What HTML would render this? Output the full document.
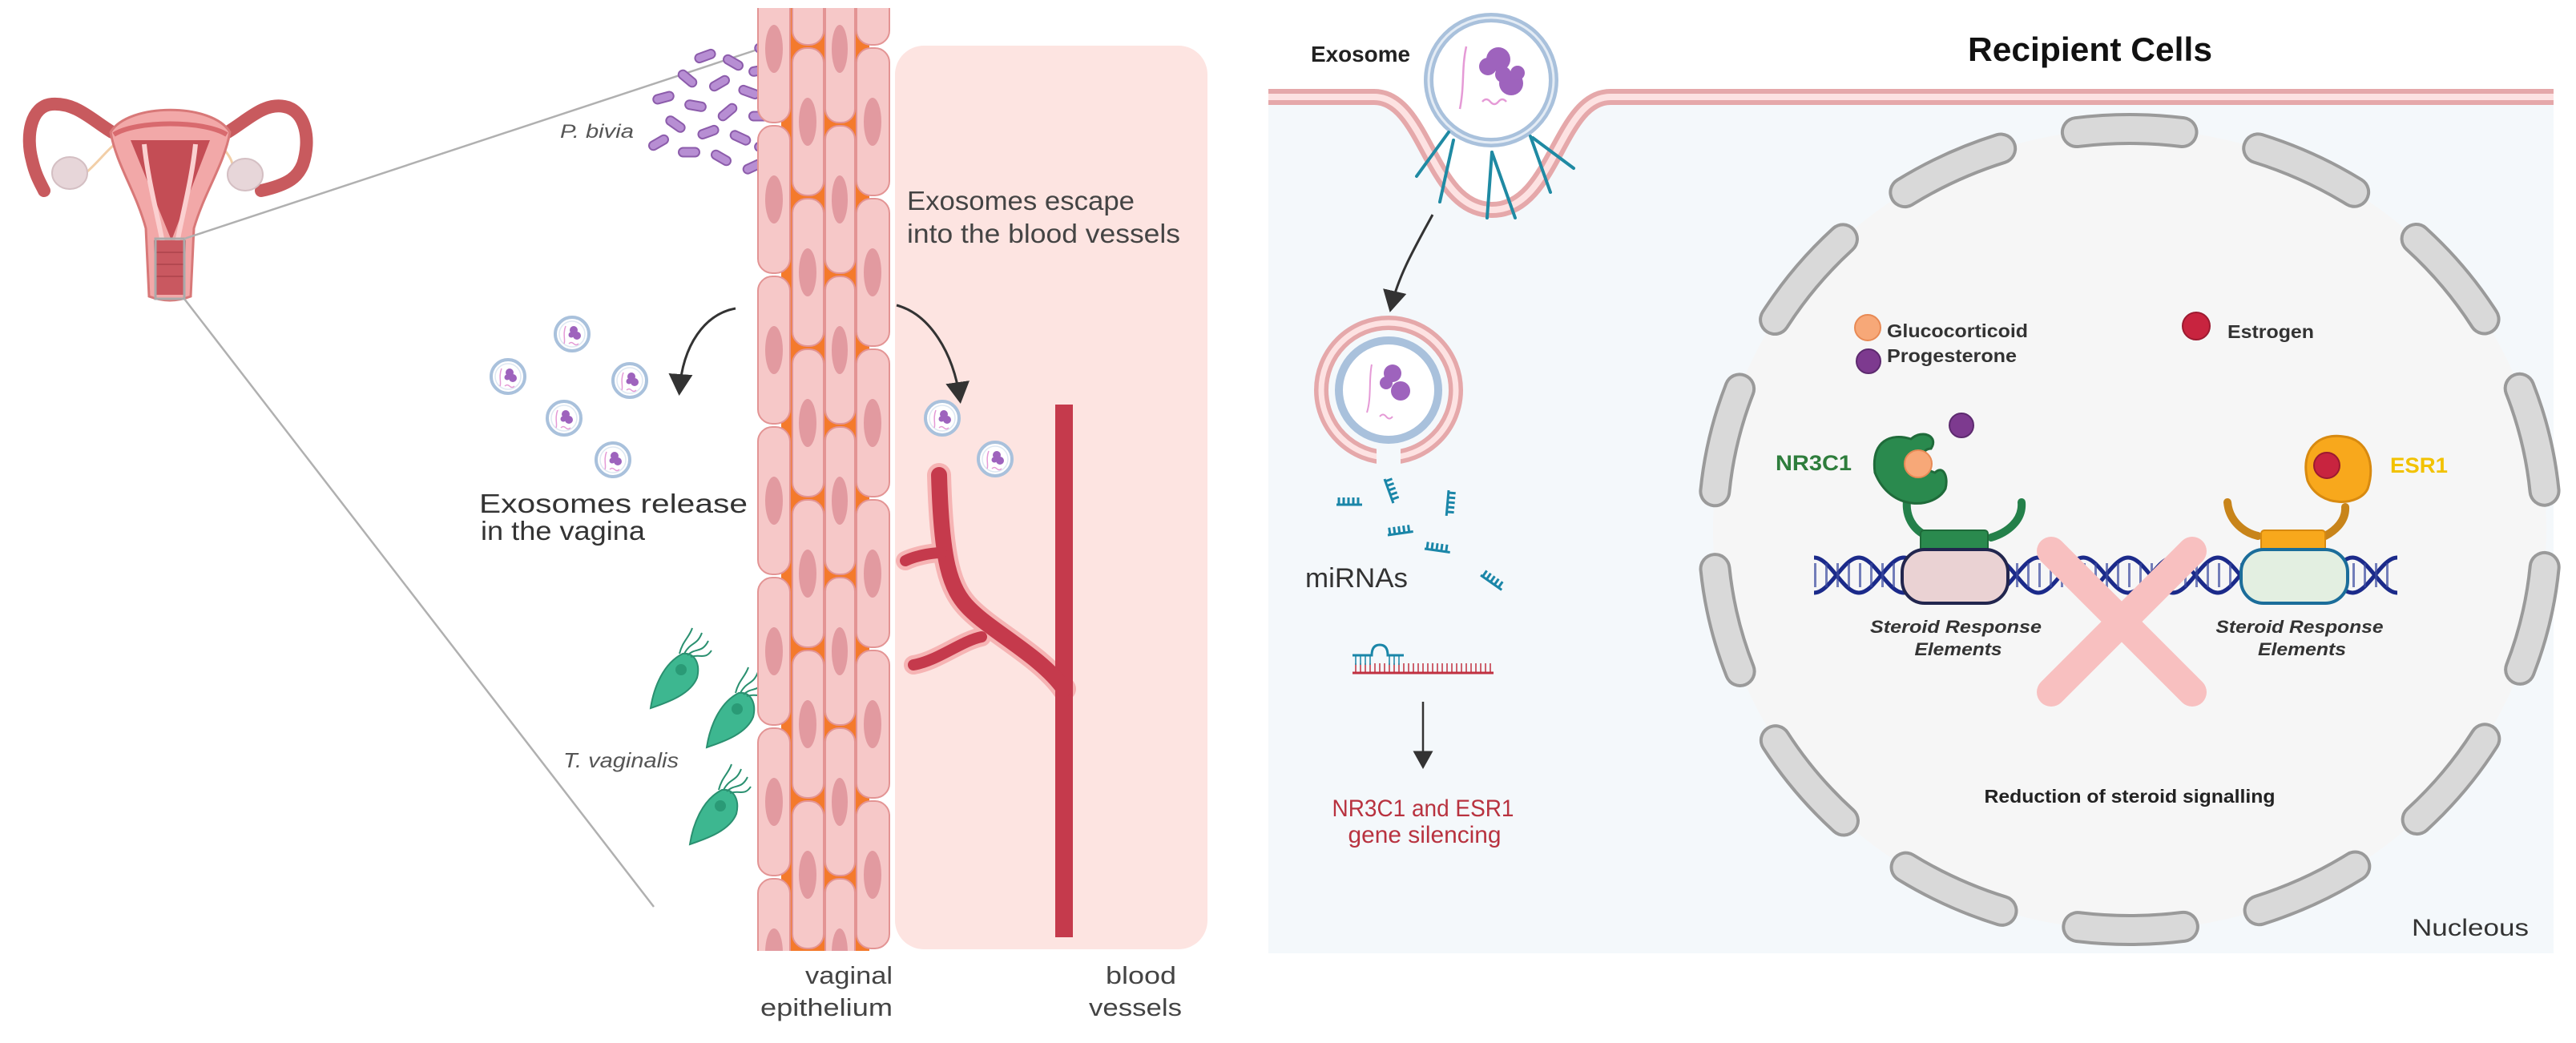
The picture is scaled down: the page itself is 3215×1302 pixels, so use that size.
<!DOCTYPE html>
<html><head><meta charset="utf-8"><style>
html,body{margin:0;padding:0;background:#fff;}
svg{display:block;}
text{font-family:"Liberation Sans",sans-serif;}
</style></head><body>
<svg width="3215" height="1302" viewBox="0 0 3215 1302" xmlns="http://www.w3.org/2000/svg">
<defs>
<marker id="ah" markerWidth="10" markerHeight="10" refX="7" refY="5" orient="auto" markerUnits="strokeWidth">
<path d="M0,0 L9,5 L0,10 Z" fill="#333"/></marker>
<g id="exo">
<circle r="21" fill="#fff" stroke="#a9c1dc" stroke-width="4"/>
<circle r="16" fill="none" stroke="#dfe8f2" stroke-width="1.5"/>
<circle cx="2" cy="-5" r="5" fill="#9e63bd"/><circle cx="6" cy="2" r="5" fill="#9e63bd"/><circle cx="-1" cy="1" r="3.5" fill="#9e63bd"/>
<path d="M-8,-10 C-12,0 -8,8 -10,12 M-4,12 q3,-3 6,0 q3,3 6,0" fill="none" stroke="#e59ad6" stroke-width="1.5"/>
</g>
<g id="rod"><rect x="-13" y="-5.5" width="26" height="11" rx="5.5" fill="#b78ed3" stroke="#8c5cab" stroke-width="2"/></g>
<g id="tv">
<path d="M-32,38 C-28,12 -16,-18 8,-30 C24,-32 30,-16 26,0 C18,20 -8,30 -32,38 Z" fill="#3db790" stroke="#2a9070" stroke-width="2"/>
<circle cx="6" cy="-10" r="7" fill="#2a9a76"/>
<path d="M10,-30 C18,-45 26,-40 32,-56 M14,-28 C24,-38 32,-30 40,-46 M18,-26 C30,-30 36,-22 44,-34 M4,-30 C8,-46 16,-50 20,-62" fill="none" stroke="#2a9070" stroke-width="2"/>
</g>
<g id="mir"><path d="M0,0 H32 M3,0 V-9 M9,0 V-9 M15,0 V-9 M21,0 V-9 M27,0 V-9" fill="none" stroke="#1a86a8" stroke-width="3"/></g>
<clipPath id="epi"><rect x="943" y="10" width="172" height="1177"/></clipPath>
</defs>

<g>
<path d="M140,165 C115,150 95,128 65,130 C38,132 32,170 40,200 C44,218 50,228 55,238" fill="none" stroke="#c85a5e" stroke-width="16" stroke-linecap="round"/>
<path d="M284,165 C309,150 329,128 355,133 C382,138 388,175 378,205 C372,220 362,230 326,238" fill="none" stroke="#c85a5e" stroke-width="16" stroke-linecap="round"/>
<path d="M108,215 C125,200 135,185 150,175 M268,175 C285,190 295,205 288,215" stroke="#f2cfa8" stroke-width="3" fill="none"/>
<ellipse cx="87" cy="216" rx="22" ry="20" fill="#e7d6d9" stroke="#d4bfc3" stroke-width="2"/>
<ellipse cx="306" cy="218" rx="22" ry="20" fill="#e7d6d9" stroke="#d4bfc3" stroke-width="2"/>
<path d="M138,165 C160,128 265,128 287,165 C280,205 255,240 242,285 L238,370 Q212,380 186,370 L182,285 C170,240 145,205 138,165 Z" fill="#f2a8a8" stroke="#d87878" stroke-width="3"/>
<path d="M142,168 C170,150 255,150 283,168" fill="none" stroke="#d86a6e" stroke-width="6"/>
<path d="M163,175 L262,175 L214,300 Z" fill="#c44d55"/>
<path d="M180,180 C185,230 200,280 208,330 M244,180 C239,230 224,280 216,330" stroke="#fbd0d0" stroke-width="6" fill="none"/>
<path d="M192,300 L232,300 L230,368 L194,368 Z" fill="#c95860"/>
<path d="M195,315 H230 M195,330 H230 M195,345 H230" stroke="#b34850" stroke-width="2"/>
<rect x="194" y="298" width="36" height="75" fill="none" stroke="#aaa" stroke-width="3"/>
<path d="M230,298 L945,62" stroke="#b0b0b0" stroke-width="2.5"/>
<path d="M230,373 L816,1132" stroke="#b0b0b0" stroke-width="2.5"/>
</g>

<use href="#rod" transform="translate(880,70) rotate(-20)"/>
<use href="#rod" transform="translate(915,78) rotate(30)"/>
<use href="#rod" transform="translate(948,88) rotate(-10)"/>
<use href="#rod" transform="translate(858,98) rotate(40)"/>
<use href="#rod" transform="translate(898,104) rotate(-30)"/>
<use href="#rod" transform="translate(935,115) rotate(20)"/>
<use href="#rod" transform="translate(828,122) rotate(-15)"/>
<use href="#rod" transform="translate(868,132) rotate(10)"/>
<use href="#rod" transform="translate(908,140) rotate(-40)"/>
<use href="#rod" transform="translate(948,145) rotate(0)"/>
<use href="#rod" transform="translate(843,155) rotate(35)"/>
<use href="#rod" transform="translate(884,165) rotate(-20)"/>
<use href="#rod" transform="translate(924,172) rotate(25)"/>
<use href="#rod" transform="translate(955,182) rotate(-10)"/>
<use href="#rod" transform="translate(860,190) rotate(0)"/>
<use href="#rod" transform="translate(900,197) rotate(30)"/>
<use href="#rod" transform="translate(940,208) rotate(-25)"/>
<use href="#rod" transform="translate(822,178) rotate(-30)"/>
<use href="#rod" transform="translate(955,62) rotate(15)"/>
<text x="699" y="172" font-size="24" font-style="italic" fill="#555" textLength="92" lengthAdjust="spacingAndGlyphs">P. bivia</text>

<use href="#exo" x="714" y="417"/>
<use href="#exo" x="634" y="470"/>
<use href="#exo" x="786" y="475"/>
<use href="#exo" x="704" y="522"/>
<use href="#exo" x="765" y="574"/>
<path d="M918,385 C880,392 852,430 848,488" fill="none" stroke="#333" stroke-width="3" marker-end="url(#ah)"/>
<text x="598" y="640" font-size="33" fill="#333" textLength="335" lengthAdjust="spacingAndGlyphs">Exosomes release</text>
<text x="600" y="674" font-size="33" fill="#333" textLength="205" lengthAdjust="spacingAndGlyphs">in the vagina</text>

<use href="#tv" x="844" y="846"/>
<use href="#tv" x="914" y="895"/>
<use href="#tv" x="893" y="1016"/>
<text x="703" y="958" font-size="26" font-style="italic" fill="#555" textLength="144" lengthAdjust="spacingAndGlyphs">T. vaginalis</text>

<rect x="1117" y="57" width="390" height="1128" rx="36" fill="#fde4e1"/>

<g clip-path="url(#epi)">
<rect x="975" y="10" width="110" height="1177" fill="#f47a2c"/>
<g fill="#f6c8c8" stroke="#e39494" stroke-width="2">
<rect x="946" y="-31" width="40" height="184" rx="18"/><rect x="946" y="157" width="40" height="184" rx="18"/><rect x="946" y="345" width="40" height="184" rx="18"/><rect x="946" y="533" width="40" height="184" rx="18"/><rect x="946" y="721" width="40" height="184" rx="18"/><rect x="946" y="909" width="40" height="184" rx="18"/><rect x="946" y="1097" width="40" height="184" rx="18"/>
<rect x="989" y="-128" width="39" height="184" rx="18"/><rect x="989" y="60" width="39" height="184" rx="18"/><rect x="989" y="248" width="39" height="184" rx="18"/><rect x="989" y="436" width="39" height="184" rx="18"/><rect x="989" y="624" width="39" height="184" rx="18"/><rect x="989" y="812" width="39" height="184" rx="18"/><rect x="989" y="1000" width="39" height="184" rx="18"/>
<rect x="1030" y="-31" width="37" height="184" rx="17"/><rect x="1030" y="157" width="37" height="184" rx="17"/><rect x="1030" y="345" width="37" height="184" rx="17"/><rect x="1030" y="533" width="37" height="184" rx="17"/><rect x="1030" y="721" width="37" height="184" rx="17"/><rect x="1030" y="909" width="37" height="184" rx="17"/><rect x="1030" y="1097" width="37" height="184" rx="17"/>
<rect x="1069" y="-128" width="41" height="184" rx="18"/><rect x="1069" y="60" width="41" height="184" rx="18"/><rect x="1069" y="248" width="41" height="184" rx="18"/><rect x="1069" y="436" width="41" height="184" rx="18"/><rect x="1069" y="624" width="41" height="184" rx="18"/><rect x="1069" y="812" width="41" height="184" rx="18"/><rect x="1069" y="1000" width="41" height="184" rx="18"/>
</g>
<g fill="#e29aa0">
<ellipse cx="966" cy="61" rx="11" ry="30"/><ellipse cx="966" cy="249" rx="11" ry="30"/><ellipse cx="966" cy="437" rx="11" ry="30"/><ellipse cx="966" cy="625" rx="11" ry="30"/><ellipse cx="966" cy="813" rx="11" ry="30"/><ellipse cx="966" cy="1001" rx="11" ry="30"/><ellipse cx="966" cy="1189" rx="11" ry="30"/>
<ellipse cx="1008" cy="152" rx="11" ry="30"/><ellipse cx="1008" cy="340" rx="11" ry="30"/><ellipse cx="1008" cy="528" rx="11" ry="30"/><ellipse cx="1008" cy="716" rx="11" ry="30"/><ellipse cx="1008" cy="904" rx="11" ry="30"/><ellipse cx="1008" cy="1092" rx="11" ry="30"/>
<ellipse cx="1048" cy="61" rx="10" ry="30"/><ellipse cx="1048" cy="249" rx="10" ry="30"/><ellipse cx="1048" cy="437" rx="10" ry="30"/><ellipse cx="1048" cy="625" rx="10" ry="30"/><ellipse cx="1048" cy="813" rx="10" ry="30"/><ellipse cx="1048" cy="1001" rx="10" ry="30"/><ellipse cx="1048" cy="1189" rx="10" ry="30"/>
<ellipse cx="1089" cy="152" rx="11" ry="30"/><ellipse cx="1089" cy="340" rx="11" ry="30"/><ellipse cx="1089" cy="528" rx="11" ry="30"/><ellipse cx="1089" cy="716" rx="11" ry="30"/><ellipse cx="1089" cy="904" rx="11" ry="30"/><ellipse cx="1089" cy="1092" rx="11" ry="30"/>
</g>
</g>

<g fill="none" stroke-linecap="round">
<path d="M1172,593 C1175,700 1185,735 1210,760 C1240,790 1300,820 1328,860" stroke="#f6b4b4" stroke-width="30"/>
<path d="M1225,795 C1200,800 1170,825 1140,830 M1175,690 C1160,690 1140,695 1130,700" stroke="#f6b4b4" stroke-width="24"/>
<path d="M1328,505 V1170" stroke="#c53a4c" stroke-width="22" stroke-linecap="butt"/>
<path d="M1172,593 C1175,700 1185,735 1210,760 C1240,790 1300,820 1328,860" stroke="#c53a4c" stroke-width="20"/>
<path d="M1225,795 C1200,800 1170,825 1140,830 M1175,690 C1160,690 1140,695 1130,700" stroke="#c53a4c" stroke-width="14"/>
</g>
<use href="#exo" x="1176" y="522"/>
<use href="#exo" x="1242" y="573"/>
<path d="M1119,381 C1160,392 1190,440 1198,498" fill="none" stroke="#333" stroke-width="3" marker-end="url(#ah)"/>
<text x="1132" y="262" font-size="33" fill="#444" textLength="284" lengthAdjust="spacingAndGlyphs">Exosomes escape</text>
<text x="1132" y="303" font-size="33" fill="#444" textLength="341" lengthAdjust="spacingAndGlyphs">into the blood vessels</text>
<text x="1005" y="1228" font-size="31" fill="#444" textLength="109" lengthAdjust="spacingAndGlyphs">vaginal</text>
<text x="949" y="1268" font-size="31" fill="#444" textLength="165" lengthAdjust="spacingAndGlyphs">epithelium</text>
<text x="1380" y="1228" font-size="31" fill="#444" textLength="88" lengthAdjust="spacingAndGlyphs">blood</text>
<text x="1359" y="1268" font-size="31" fill="#444" textLength="116" lengthAdjust="spacingAndGlyphs">vessels</text>

<path d="M1583,121 H1715 C1780,121 1785,262 1862,262 C1940,262 1945,121 2010,121 H3187 V1190 H1583 Z" fill="#f4f8fb"/>
<path d="M1583,121 H1715 C1780,121 1785,262 1862,262 C1940,262 1945,121 2010,121 H3187" fill="none" stroke="#e5a8aa" stroke-width="20"/>
<path d="M1583,121 H1715 C1780,121 1785,262 1862,262 C1940,262 1945,121 2010,121 H3187" fill="none" stroke="#fde2e2" stroke-width="8"/>
<circle cx="1861" cy="100" r="78" fill="#fff" stroke="#a9c1dc" stroke-width="12"/>
<circle cx="1861" cy="100" r="78" fill="none" stroke="#e4ecf5" stroke-width="3"/>
<g fill="#9e63bd"><circle cx="1870" cy="74" r="15"/><circle cx="1857" cy="83" r="11"/><circle cx="1886" cy="104" r="15"/><circle cx="1876" cy="93" r="10"/><circle cx="1894" cy="91" r="9"/></g>
<path d="M1830,58 C1824,85 1828,106 1822,136 M1850,127 q5,-6 10,0 q5,6 10,0 q5,-6 10,0" fill="none" stroke="#e59ad6" stroke-width="2.5"/>
<g stroke="#1f8aa3" stroke-width="4" stroke-linecap="round">
<path d="M1808,165 L1768,220"/><path d="M1814,175 L1797,252"/><path d="M1862,190 L1856,272"/><path d="M1862,190 L1891,272"/><path d="M1910,170 L1935,240"/><path d="M1913,172 L1964,210"/>
</g>
<text x="1636" y="77" font-size="28" font-weight="bold" fill="#222" textLength="124" lengthAdjust="spacingAndGlyphs">Exosome</text>
<text x="2456" y="76" font-size="42" font-weight="bold" fill="#111" textLength="305" lengthAdjust="spacingAndGlyphs">Recipient Cells</text>
<path d="M1788,268 C1765,310 1745,345 1736,384" fill="none" stroke="#333" stroke-width="3" marker-end="url(#ah)"/>

<circle cx="1733" cy="487" r="84" fill="none" stroke="#e5a8aa" stroke-width="18"/>
<circle cx="1733" cy="487" r="84" fill="none" stroke="#fde2e2" stroke-width="7"/>
<rect x="1718" y="560" width="30" height="22" fill="#f4f8fb"/>
<circle cx="1733" cy="487" r="62" fill="#fff" stroke="#a9c1dc" stroke-width="10"/>
<g fill="#9e63bd"><circle cx="1738" cy="466" r="11"/><circle cx="1748" cy="488" r="12"/><circle cx="1730" cy="478" r="8"/></g>
<path d="M1712,455 C1708,475 1712,495 1706,515 M1722,520 q4,-5 8,0 q4,5 8,0" fill="none" stroke="#e59ad6" stroke-width="2"/>

<use href="#mir" transform="translate(1668,630)"/>
<use href="#mir" transform="translate(1728,598) rotate(70)"/>
<use href="#mir" transform="translate(1808,612) rotate(95)"/>
<use href="#mir" transform="translate(1732,668) rotate(-8)"/>
<use href="#mir" transform="translate(1778,685) rotate(8)"/>
<use href="#mir" transform="translate(1848,718) rotate(35)"/>
<text x="1629" y="733" font-size="34" fill="#333" textLength="128" lengthAdjust="spacingAndGlyphs">miRNAs</text>
<g fill="none" stroke-width="2.5">
<path d="M1688,840 H1864" stroke="#c03040" stroke-width="3"/>
<path d="M1692,840 V828 M1698,840 V828 M1704,840 V828 M1710,840 V828 M1716,840 V828 M1722,840 V828 M1728,840 V828 M1734,840 V828 M1740,840 V828 M1746,840 V828 M1752,840 V828 M1758,840 V828 M1764,840 V828 M1770,840 V828 M1776,840 V828 M1782,840 V828 M1788,840 V828 M1794,840 V828 M1800,840 V828 M1806,840 V828 M1812,840 V828 M1818,840 V828 M1824,840 V828 M1830,840 V828 M1836,840 V828 M1842,840 V828 M1848,840 V828 M1854,840 V828 M1860,840 V828" stroke="#c03040" stroke-width="1.5"/>
<path d="M1688,818 H1712 Q1712,805 1722,805 Q1732,805 1732,818 H1752" stroke="#1a86a8" stroke-width="3"/>
<path d="M1692,818 V830 M1698,818 V830 M1704,818 V830 M1710,818 V830 M1734,818 V830 M1740,818 V830 M1746,818 V830" stroke="#1a86a8" stroke-width="1.5"/>
</g>
<path d="M1776,876 V955" stroke="#333" stroke-width="2.5" marker-end="url(#ah)"/>
<text x="1776" y="1019" font-size="30" fill="#b8323f" text-anchor="middle" textLength="227" lengthAdjust="spacingAndGlyphs">NR3C1 and ESR1</text>
<text x="1778" y="1052" font-size="30" fill="#b8323f" text-anchor="middle" textLength="191" lengthAdjust="spacingAndGlyphs">gene silencing</text>

<ellipse cx="2658" cy="661" rx="520" ry="500" fill="#f6f6f6"/>
<ellipse cx="2658" cy="661" rx="520" ry="500" fill="none" stroke="#9a9a9a" stroke-width="40" stroke-linecap="round" stroke-dasharray="132 97" stroke-dashoffset="-47"/>
<ellipse cx="2658" cy="661" rx="520" ry="500" fill="none" stroke="#d9d9d9" stroke-width="32" stroke-linecap="round" stroke-dasharray="132 97" stroke-dashoffset="-47"/>

<circle cx="2331" cy="409" r="16" fill="#f7a878" stroke="#e88a55" stroke-width="2"/>
<circle cx="2332" cy="451" r="15" fill="#7d3a8f" stroke="#5d2a6f" stroke-width="2"/>
<circle cx="2741" cy="407" r="17" fill="#c8243f" stroke="#9c1a30" stroke-width="2"/>
<text x="2355" y="421" font-size="23" font-weight="bold" fill="#333" textLength="176" lengthAdjust="spacingAndGlyphs">Glucocorticoid</text>
<text x="2355" y="452" font-size="23" font-weight="bold" fill="#333" textLength="162" lengthAdjust="spacingAndGlyphs">Progesterone</text>
<text x="2780" y="422" font-size="23" font-weight="bold" fill="#333" textLength="108" lengthAdjust="spacingAndGlyphs">Estrogen</text>
<circle cx="2448" cy="531" r="15" fill="#7d3a8f" stroke="#5d2a6f" stroke-width="2"/>

<g fill="none" stroke="#1b2a8a" stroke-width="5">
<path d="M2264,696 C2284,696 2300,740 2320,740 S2356,696 2376,696 S2412,740 2432,740 S2468,696 2488,696 S2524,740 2544,740 S2580,696 2600,696 S2636,740 2656,740 S2692,696 2712,696 S2748,740 2768,740 S2804,696 2824,696 S2860,740 2880,740 S2916,696 2936,696 S2972,740 2992,740"/>
<path d="M2264,740 C2284,740 2300,696 2320,696 S2356,740 2376,740 S2412,696 2432,696 S2468,740 2488,740 S2524,696 2544,696 S2580,740 2600,740 S2636,696 2656,696 S2692,740 2712,740 S2748,696 2768,696 S2804,740 2824,740 S2860,696 2880,696 S2916,740 2936,740 S2972,696 2992,696"/>
<path d="M2264,718 H2992" stroke-width="30" stroke-dasharray="3 11" stroke="#3a4aa0" opacity="0.7"/>
</g>
<path d="M2380,625 C2378,645 2388,660 2401,667" fill="none" stroke="#24804a" stroke-width="10" stroke-linecap="round"/>
<path d="M2523,627 C2525,650 2505,665 2485,671" fill="none" stroke="#24804a" stroke-width="10" stroke-linecap="round"/>
<path d="M2340,590 C2335,550 2360,540 2385,548 C2400,535 2420,545 2410,560 C2395,560 2395,585 2415,590 C2425,580 2432,595 2428,610 C2415,635 2360,640 2340,590 Z" fill="#2a8a4e" stroke="#1f6b3a" stroke-width="3"/>
<circle cx="2394" cy="579" r="17" fill="#f7a878" stroke="#e88a55" stroke-width="2"/>
<rect x="2397" y="662" width="84" height="26" rx="4" fill="#2a8a4e" stroke="#1f6b3a" stroke-width="2"/>
<rect x="2374" y="686" width="132" height="67" rx="28" fill="#ead2d3" stroke="#22264e" stroke-width="4"/>
<text x="2216" y="587" font-size="27" font-weight="bold" fill="#2e7d3c" textLength="95" lengthAdjust="spacingAndGlyphs">NR3C1</text>
<path d="M2927,633 C2928,650 2915,662 2902,669" fill="none" stroke="#c8841a" stroke-width="10" stroke-linecap="round"/>
<path d="M2780,627 C2782,650 2800,665 2818,669" fill="none" stroke="#c8841a" stroke-width="10" stroke-linecap="round"/>
<path d="M2880,600 C2870,560 2895,540 2925,545 C2955,548 2965,580 2955,610 C2945,632 2895,635 2880,600 Z" fill="#f8a81c" stroke="#d88a10" stroke-width="3"/>
<circle cx="2904" cy="581" r="16" fill="#c8243f" stroke="#9c1a30" stroke-width="2"/>
<rect x="2822" y="662" width="80" height="26" rx="4" fill="#f8a81c" stroke="#d88a10" stroke-width="2"/>
<rect x="2797" y="686" width="133" height="67" rx="28" fill="#e3efe1" stroke="#1b6d9a" stroke-width="4"/>
<text x="2983" y="590" font-size="27" font-weight="bold" fill="#f2c200" textLength="72" lengthAdjust="spacingAndGlyphs">ESR1</text>
<g stroke="#f8c0c0" stroke-width="36" stroke-linecap="round">
<path d="M2560,688 L2736,864"/><path d="M2736,688 L2560,864"/>
</g>
<g font-size="22" font-weight="bold" font-style="italic" fill="#333" text-anchor="middle">
<text x="2441" y="790" textLength="214" lengthAdjust="spacingAndGlyphs">Steroid Response</text>
<text x="2444" y="818" textLength="109" lengthAdjust="spacingAndGlyphs">Elements</text>
<text x="2870" y="790" textLength="209" lengthAdjust="spacingAndGlyphs">Steroid Response</text>
<text x="2873" y="818" textLength="110" lengthAdjust="spacingAndGlyphs">Elements</text>
</g>
<text x="2658" y="1002" font-size="23" font-weight="bold" fill="#222" text-anchor="middle" textLength="363" lengthAdjust="spacingAndGlyphs">Reduction of steroid signalling</text>
<text x="3010" y="1168" font-size="30" fill="#333" textLength="146" lengthAdjust="spacingAndGlyphs">Nucleous</text>
</svg>
</body></html>
